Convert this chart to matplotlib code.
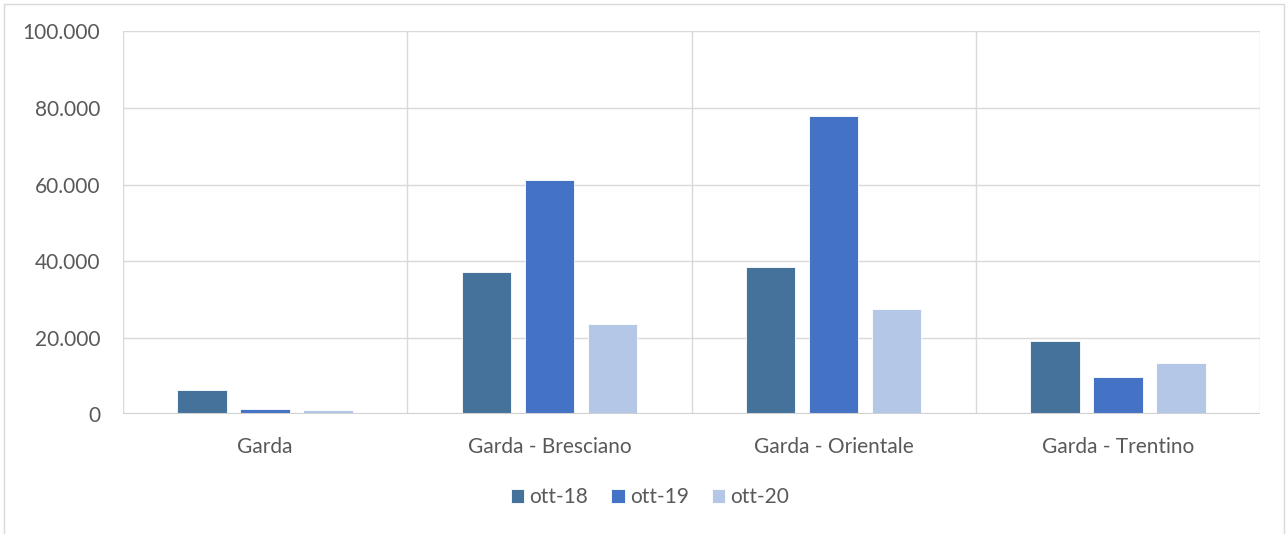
import numpy as np
import matplotlib
matplotlib.use('Agg')
import matplotlib.pyplot as plt
from matplotlib.patches import Rectangle
from matplotlib.ticker import FuncFormatter

# --- データ ---
categories = ['Garda', 'Garda - Bresciano', 'Garda - Orientale', 'Garda - Trentino']
series_names = ['ott-18', 'ott-19', 'ott-20']
ott18 = [6350, 37200, 38600, 19100]
ott19 = [1330, 61300, 77800, 9750]
ott20 = [1070, 23600, 27400, 13300]
colors = ['#44729B', '#4472C4', '#B4C7E7']

plt.rcParams['font.family'] = ['Lato', 'DejaVu Sans']
text_color = '#595959'
grid_color = '#D9D9D9'

fig = plt.figure(figsize=(12.88, 5.34), dpi=100)
W, H = 1288, 534
ax = fig.add_axes([123 / W, 1 - 414.4 / H, (1260 - 123) / W, (414.4 - 31.3) / H])

# 外枠
fig.patches.append(Rectangle((4 / W, -0.01), (1284 - 4) / W, 1 - 4 / H + 0.01,
                             transform=fig.transFigure, fill=False,
                             edgecolor=grid_color, linewidth=1))

x = np.arange(len(categories))
width = 0.174
step = 0.222
for i, (vals, name) in enumerate(zip([ott18, ott19, ott20], series_names)):
    ax.bar(x + (i - 1) * step, vals, width, color=colors[i], label=name,
           edgecolor='white', linewidth=0.6, zorder=3)

ax.set_xlim(-0.5, len(categories) - 0.5)
ax.set_ylim(0, 100000)
ax.set_yticks(np.arange(0, 100001, 20000))
ax.yaxis.set_major_formatter(FuncFormatter(lambda v, p: f'{int(v):,}'.replace(',', '.')))
ax.set_xticks(x)
ax.set_xticklabels(categories)

# グリッド
for yv in np.arange(20000, 100001, 20000):
    ax.axhline(yv, color=grid_color, linewidth=1, zorder=0)
for xv in np.arange(-0.5, len(categories), 1.0):
    ax.axvline(xv, color=grid_color, linewidth=1, zorder=0)
ax.axhline(0, color='#D0D0D0', linewidth=1.5, zorder=4)

for s in ax.spines.values():
    s.set_visible(False)
ax.tick_params(axis='both', length=0, labelsize=15, colors=text_color)
ax.tick_params(axis='y', pad=16.5)
ax.tick_params(axis='x', pad=16)

leg = fig.legend(loc='center', bbox_to_anchor=(650 / W, 1 - 497 / H), ncol=3,
                 frameon=False, fontsize=15, handlelength=0.65, handleheight=0.65,
                 handletextpad=0.25, columnspacing=1.1)
for t in leg.get_texts():
    t.set_color(text_color)

fig.savefig('out.png', dpi=100)
